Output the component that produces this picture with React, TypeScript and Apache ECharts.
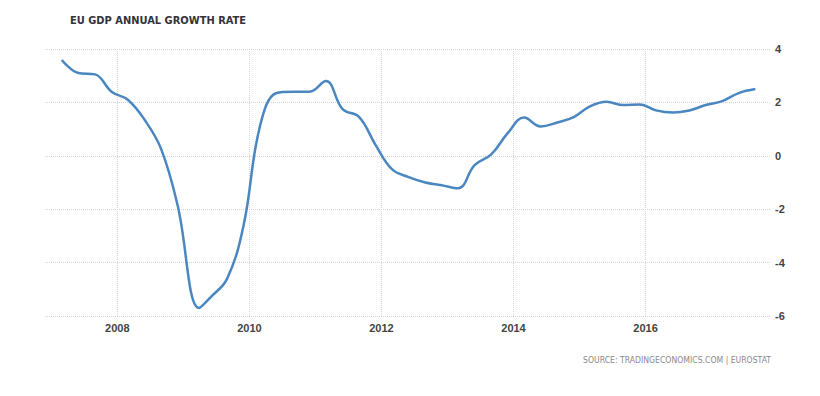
import React, { useEffect, useRef } from "react";
import * as echarts from "echarts";

const TITLE = "EU GDP ANNUAL GROWTH RATE";
const SOURCE = "SOURCE: TRADINGECONOMICS.COM | EUROSTAT";

const DATES = [
  "2007-02-28", "2007-05-31", "2007-08-31", "2007-11-30",
  "2008-02-28", "2008-05-31", "2008-08-31", "2008-11-30",
  "2009-03-29", "2009-05-31", "2009-08-31", "2009-11-30",
  "2010-02-28", "2010-05-31", "2010-08-31", "2010-11-30",
  "2011-02-28", "2011-05-31", "2011-08-31", "2011-11-30",
  "2012-02-28", "2012-05-31", "2012-08-31", "2012-11-30",
  "2013-02-28", "2013-05-31", "2013-08-31", "2013-11-30",
  "2014-02-28", "2014-05-31", "2014-08-31", "2014-11-30",
  "2015-02-28", "2015-05-31", "2015-08-31", "2015-11-30",
  "2016-02-28", "2016-05-31", "2016-08-31", "2016-11-30",
  "2017-02-28", "2017-05-31", "2017-08-31",
];

const GROWTH = [
  3.59, 3.1, 3.05, 2.4,
  2.1, 1.35, 0.25, -1.85,
  -5.7, -5.3, -4.6, -2.6,
  1.1, 2.35, 2.4, 2.4,
  2.8, 1.75, 1.45, 0.4,
  -0.5, -0.8, -1.0, -1.1,
  -1.22, -0.35, 0.05, 0.85,
  1.43, 1.1, 1.25, 1.45,
  1.85, 2.02, 1.9, 1.92,
  1.7, 1.62, 1.7, 1.9,
  2.05, 2.35, 2.5,
];

const X_TICK_YEARS = [2008, 2010, 2012, 2014, 2016];
const X_MIN = "2006-11-27";
const X_MAX = "2017-11-20";
const Y_MIN = -6;
const Y_MAX = 4;
const Y_INTERVAL = 2;

const NARROW = "'Liberation Sans Narrow', 'DejaVu Sans Condensed', 'Liberation Sans', Arial, sans-serif";

// convert "YYYY-MM-DD" to a fractional year
const toYear = (s: string) => {
  const [y, m, d] = s.split("-").map(Number);
  const start = Date.UTC(y, 0, 1);
  const end = Date.UTC(y + 1, 0, 1);
  return y + (Date.UTC(y, m - 1, d) - start) / (end - start);
};

export default function App() {
  const ref = useRef<HTMLDivElement>(null);

  useEffect(() => {
    document.body.style.margin = "0";
    if (!ref.current) return;
    const chart = echarts.init(ref.current, null, { renderer: "svg" });
    const gridLine = { show: true, lineStyle: { color: "#d4d4d4", type: "dotted" as const, width: 1 } };

    chart.setOption({
      animation: false,
      backgroundColor: "#ffffff",
      title: {
        text: TITLE,
        left: 70,
        top: 15,
        padding: 0,
        textStyle: { fontFamily: NARROW, fontSize: 11, fontWeight: "bold", color: "#333340" },
      },
      grid: { left: 45, right: 50, top: 49, bottom: 80 },
      xAxis: {
        type: "value",
        min: toYear(X_MIN),
        max: toYear(X_MAX),
        axisLine: { show: false },
        axisTick: { show: false, customValues: X_TICK_YEARS },
        axisLabel: {
          customValues: X_TICK_YEARS,
          formatter: (v: number) => String(Math.round(v)),
          color: "#444",
          fontFamily: "'Liberation Sans', Arial, sans-serif",
          fontSize: 11,
          fontWeight: "bold",
          margin: 6,
        },
        splitLine: gridLine,
      },
      yAxis: {
        type: "value",
        position: "right",
        min: Y_MIN,
        max: Y_MAX,
        interval: Y_INTERVAL,
        axisLine: { show: false },
        axisTick: { show: false },
        axisLabel: {
          color: "#444",
          fontFamily: "'Liberation Sans', Arial, sans-serif",
          fontSize: 11,
          fontWeight: "bold",
          margin: 5,
        },
        splitLine: gridLine,
      },
      graphic: [
        {
          type: "text",
          right: 49,
          top: 355,
          style: {
            text: SOURCE,
            fontFamily: NARROW,
            fontSize: 8.6,
            fill: "#8a8a8a",
          },
        },
      ],
      series: [
        {
          type: "line",
          data: DATES.map((d, i) => [toYear(d), GROWTH[i]]),
          smooth: 0.4,
          showSymbol: false,
          lineStyle: { color: "#4a87c1", width: 2.5 },
        },
      ],
    });
    return () => chart.dispose();
  }, []);

  return <div ref={ref} style={{ width: 820, height: 396 }} />;
}
